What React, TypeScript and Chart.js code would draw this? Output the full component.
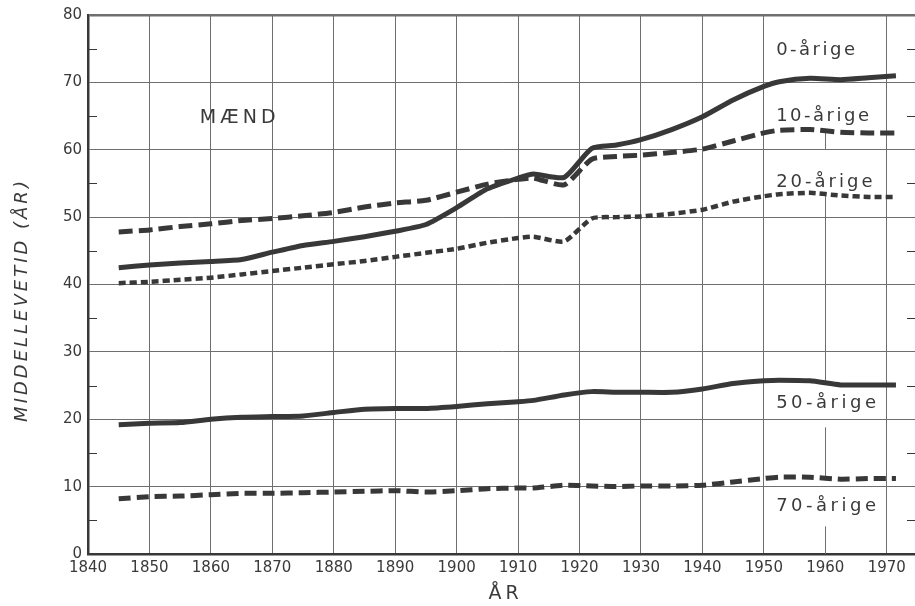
import React, { useEffect, useRef } from "react";
import { Chart, registerables } from "chart.js";

Chart.register(...registerables);

// Mean remaining lifetime for Danish men, by age group
const years = [
  1845, 1850, 1855, 1860, 1865, 1870, 1875, 1880, 1885, 1890, 1895, 1900, 1905, 1910,
  1912.5, 1917.5, 1922, 1926, 1930, 1935, 1940, 1945, 1950, 1952.5, 1957.5, 1962.5, 1967, 1971.5,
];

const age0 = [
  42.5, 42.9, 43.2, 43.4, 43.7, 44.8, 45.8, 46.4, 47.1, 47.9, 48.9, 51.4, 54.2, 55.8,
  56.4, 55.9, 60.2, 60.7, 61.5, 63.0, 64.9, 67.4, 69.4, 70.1, 70.6, 70.4, 70.7, 71.0,
];

const age10 = [
  47.8, 48.1, 48.6, 49.0, 49.5, 49.8, 50.2, 50.7, 51.5, 52.1, 52.5, 53.7, 54.9, 55.6,
  55.8, 54.8, 58.6, 59.0, 59.2, 59.6, 60.1, 61.3, 62.5, 62.9, 63.0, 62.6, 62.5, 62.5,
];

const age20 = [
  40.2, 40.4, 40.7, 41.0, 41.5, 42.0, 42.5, 43.0, 43.5, 44.1, 44.7, 45.3, 46.2, 46.9,
  47.1, 46.4, 49.8, 50.0, 50.1, 50.5, 51.1, 52.3, 53.1, 53.4, 53.6, 53.2, 53.0, 53.0,
];

const age50 = [
  19.2, 19.4, 19.5, 20.0, 20.3, 20.4, 20.5, 21.0, 21.5, 21.6, 21.6, 21.9, 22.3, 22.6,
  22.8, 23.6, 24.1, 24.0, 24.0, 24.0, 24.5, 25.3, 25.7, 25.8, 25.7, 25.1, 25.1, 25.1,
];

const age70 = [
  8.2, 8.5, 8.6, 8.8, 9.0, 9.0, 9.1, 9.2, 9.3, 9.4, 9.2, 9.4, 9.7, 9.8,
  9.8, 10.2, 10.1, 10.0, 10.1, 10.1, 10.2, 10.7, 11.2, 11.4, 11.4, 11.1, 11.2, 11.2,
];

const seriesNames = ["0-årige", "10-årige", "20-årige", "50-årige", "70-årige"];

const xTickYears = [1840, 1850, 1860, 1870, 1880, 1890, 1900, 1910, 1920, 1930, 1940, 1950, 1960, 1970];
const yTickValues = [0, 10, 20, 30, 40, 50, 60, 70, 80];
const yMinorValues = [5, 15, 25, 35, 45, 55, 65, 75];

const panelTitle = "MÆND";
const xTitle = "ÅR";
const yTitle = "MIDDELLEVETID (ÅR)";

// Where each series name sits (left edge year, vertical centre value)
const nameAnchors = [
  { year: 1952, value: 74.7, spacing: 2.5 },
  { year: 1952, value: 65.0, spacing: 2.5 },
  { year: 1952, value: 55.1, spacing: 3 },
  { year: 1952, value: 22.4, spacing: 3.5 },
  { year: 1952, value: 7.1, spacing: 3.5 },
];

// The 1960 grid line is interrupted behind the series names
const brokenGridYear = 1960;
const brokenGridGaps: [number, number][] = [
  [62.8, 80],
  [53.5, 60],
  [18.8, 25.4],
  [4.1, 11.3],
];

const INK = "#383838";
const TEXT = "#3a3a3a";
const GRID = "#6f6f6f";
const FONT = "'DejaVu Sans', sans-serif";

const lineStyles = [
  { dash: [] as number[], width: 5 },
  { dash: [14, 6], width: 5 },
  { dash: [7, 4], width: 4.5 },
  { dash: [] as number[], width: 5 },
  { dash: [12, 6], width: 5 },
];

const seriesValues = [age0, age10, age20, age50, age70];

const decorations = {
  id: "decorations",
  beforeDatasetsDraw(chart: any) {
    const { ctx, chartArea, scales } = chart;
    const { left, right } = chartArea;
    const x = scales.x;
    const y = scales.y;
    ctx.save();
    ctx.strokeStyle = GRID;
    ctx.lineWidth = 1;

    // broken vertical grid line
    const gx = Math.round(x.getPixelForValue(brokenGridYear)) + 0.5;
    const gaps = [...brokenGridGaps].sort((a, b) => a[0] - b[0]);
    let cur = 0;
    const seg = (a: number, b: number) => {
      ctx.beginPath();
      ctx.moveTo(gx, y.getPixelForValue(a));
      ctx.lineTo(gx, y.getPixelForValue(b));
      ctx.stroke();
    };
    for (const [lo, hi] of gaps) {
      if (lo > cur) seg(cur, lo);
      cur = hi;
    }
    if (cur < 80) seg(cur, 80);

    // minor ticks on both sides
    ctx.strokeStyle = INK;
    ctx.lineWidth = 1.2;
    for (const v of yMinorValues) {
      const py = Math.round(y.getPixelForValue(v)) + 0.5;
      ctx.beginPath();
      ctx.moveTo(left, py);
      ctx.lineTo(left + 9, py);
      ctx.moveTo(right - 8, py);
      ctx.lineTo(right, py);
      ctx.stroke();
    }
    ctx.restore();
  },
  afterDatasetsDraw(chart: any) {
    const { ctx, chartArea, scales } = chart;
    const x = scales.x;
    const y = scales.y;
    ctx.save();
    ctx.fillStyle = TEXT;
    ctx.textBaseline = "middle";

    // series names
    ctx.font = `18px ${FONT}`;
    ctx.textAlign = "left";
    seriesNames.forEach((name, i) => {
      const a = nameAnchors[i];
      (ctx as any).letterSpacing = `${a.spacing}px`;
      ctx.fillText(name, x.getPixelForValue(a.year), y.getPixelForValue(a.value));
    });

    // panel title
    ctx.font = `19px ${FONT}`;
    (ctx as any).letterSpacing = "4px";
    ctx.fillText(panelTitle, x.getPixelForValue(1858.2), y.getPixelForValue(64.7));

    // x axis title
    ctx.textAlign = "center";
    ctx.font = `19px ${FONT}`;
    (ctx as any).letterSpacing = "4px";
    ctx.fillText(xTitle, (chartArea.left + chartArea.right) / 2 + 4, 594);

    // y axis title
    ctx.translate(22, 300);
    ctx.rotate(-Math.PI / 2);
    ctx.font = `italic 18px ${FONT}`;
    (ctx as any).letterSpacing = "3px";
    ctx.fillText(yTitle, 0, 0);
    ctx.restore();
  },
};

export default function App() {
  const canvasRef = useRef<HTMLCanvasElement | null>(null);

  useEffect(() => {
    document.body.style.margin = "0";
    const canvas = canvasRef.current;
    if (!canvas) return;

    const datasets = seriesValues.map((vals, i) => ({
      label: seriesNames[i],
      data: vals.map((v, j) => ({ x: years[j], y: v })),
      borderColor: INK,
      backgroundColor: INK,
      borderWidth: lineStyles[i].width,
      borderDash: lineStyles[i].dash,
      borderCapStyle: "butt" as const,
      borderJoinStyle: "round" as const,
      pointRadius: 0,
      pointHoverRadius: 0,
      tension: 0.2,
      fill: false,
    }));

    const chart = new Chart(canvas, {
      type: "line",
      data: { datasets },
      options: {
        animation: false,
        responsive: false,
        devicePixelRatio: 1,
        layout: { padding: { top: 12, right: 0, bottom: 0, left: 0 } },
        plugins: {
          legend: { display: false },
          tooltip: { enabled: false },
        },
        scales: {
          x: {
            type: "linear",
            min: 1840,
            max: 1974.6,
            afterBuildTicks: (scale: any) => {
              scale.ticks = xTickYears.map((v) => ({ value: v }));
            },
            afterFit: (scale: any) => {
              scale.height = 52;
            },
            grid: {
              color: (c: any) => (c.tick && c.tick.value === brokenGridYear ? "rgba(0,0,0,0)" : GRID),
              lineWidth: 1,
              drawTicks: false,
            },
            border: { display: true, color: INK, width: 2.5 },
            ticks: {
              padding: 5,
              color: TEXT,
              font: { family: "'DejaVu Sans'", size: 15 },
              maxRotation: 0,
              autoSkip: false,
              callback: (v: any) => String(v),
            },
          },
          y: {
            type: "linear",
            min: 0,
            max: 80,
            afterBuildTicks: (scale: any) => {
              scale.ticks = yTickValues.map((v) => ({ value: v }));
            },
            afterFit: (scale: any) => {
              scale.width = 88;
            },
            grid: {
              color: GRID,
              lineWidth: (c: any) => (c.tick && c.tick.value === 80 ? 2.5 : 1),
              drawTicks: false,
            },
            border: { display: true, color: INK, width: 2.5 },
            ticks: {
              padding: 6,
              color: TEXT,
              font: { family: "'DejaVu Sans'", size: 15 },
              callback: (v: any) => String(v),
            },
          },
        },
      },
      plugins: [decorations],
    });

    return () => chart.destroy();
  }, []);

  return (
    <div style={{ position: "absolute", left: 0, top: 0, width: 915, height: 606, background: "#fff" }}>
      <canvas ref={canvasRef} width={915} height={606} style={{ display: "block" }} />
    </div>
  );
}
